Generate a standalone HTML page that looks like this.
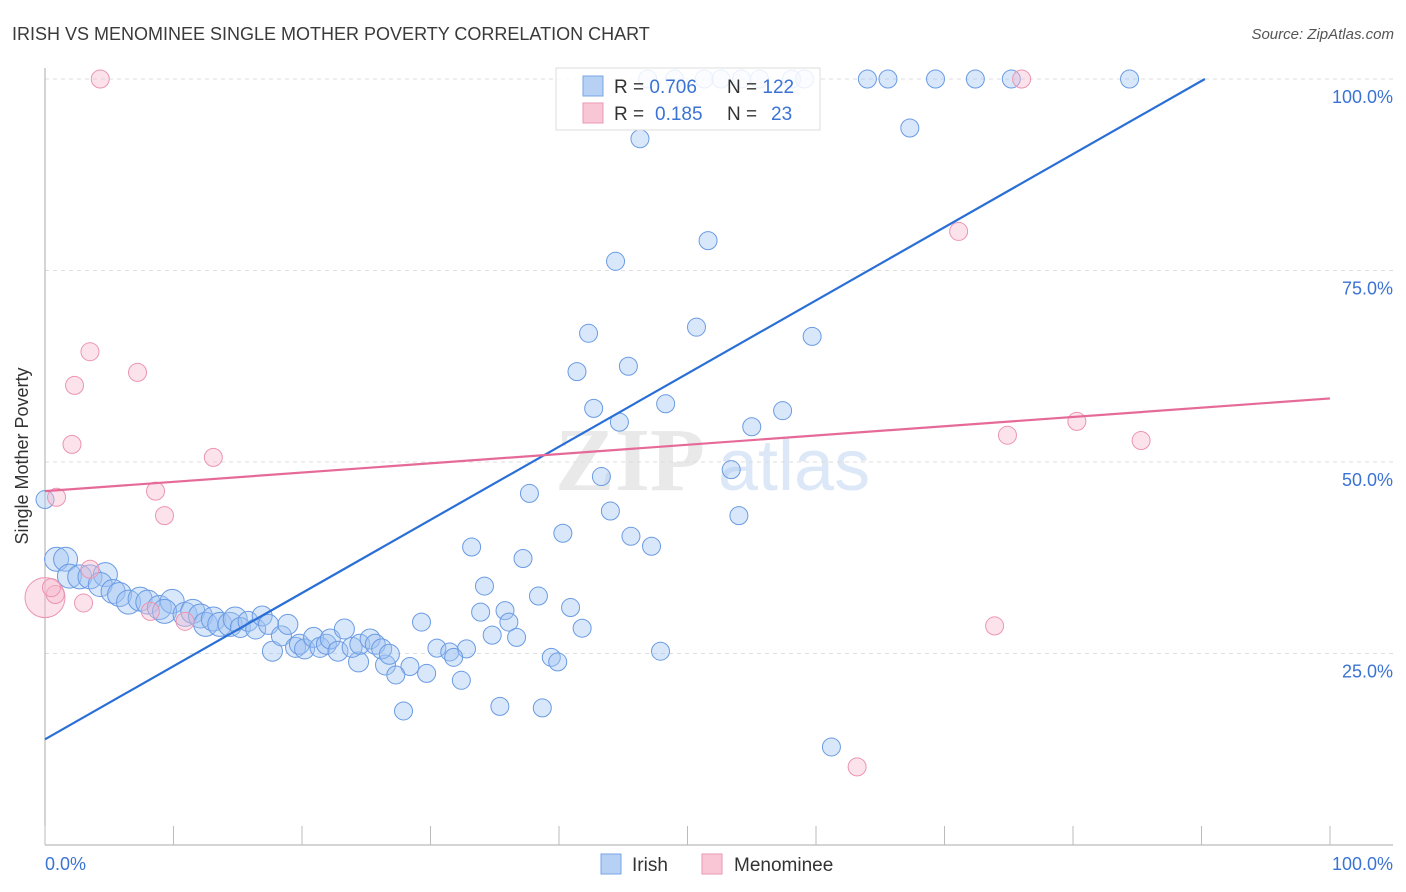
<!DOCTYPE html>
<html><head><meta charset="utf-8"><style>
body{margin:0;background:#fff;font-family:"Liberation Sans",sans-serif}
svg{display:block}
</style></head><body>
<svg id="chart" width="1406" height="892" xmlns="http://www.w3.org/2000/svg">
<text x="12" y="40" font-size="18" fill="#3a3a3a">IRISH VS MENOMINEE SINGLE MOTHER POVERTY CORRELATION CHART</text>
<text x="1394" y="39" font-size="15" fill="#555" text-anchor="end" font-style="italic">Source: ZipAtlas.com</text>
<g>
<text x="555" y="490" font-size="90" fill="#dcdcdc" font-family="Liberation Serif,serif" font-weight="bold" opacity="0.6">ZIP</text>
<text x="718" y="490" font-size="72" fill="#c6daf3" opacity="0.6">atlas</text>
</g>
<g id="grid"></g>
<g id="axes"></g>
<g id="pts"></g>
<g id="lines"></g>
<text x="28" y="456" font-size="18" fill="#333" text-anchor="middle" transform="rotate(-90 28 456)">Single Mother Poverty</text>
<g>
<rect x="556" y="68" width="264" height="62" fill="#fff" fill-opacity="0.85" stroke="#ddd"/>
<rect x="583" y="76" width="20" height="20" fill="#b7d1f5" stroke="#7aa5e6"/>
<rect x="583" y="103" width="20" height="20" fill="#f8c6d5" stroke="#ea99b3"/>
<text x="614" y="93" font-size="19" fill="#333">R = <tspan fill="#3b73d4">0.706</tspan><tspan x="727">N = </tspan><tspan fill="#3b73d4">122</tspan></text>
<text x="614" y="120" font-size="19" fill="#333">R = <tspan x="655" fill="#3b73d4">0.185</tspan><tspan x="727">N = </tspan><tspan x="771" fill="#3b73d4">23</tspan></text>
</g>
<g>
<rect x="601" y="854" width="20" height="20" fill="#b7d1f5" stroke="#7aa5e6"/>
<text x="632" y="871" font-size="19" fill="#333">Irish</text>
<rect x="702" y="854" width="20" height="20" fill="#f8c6d5" stroke="#ea99b3"/>
<text x="734" y="871" font-size="19" fill="#333">Menominee</text>
</g>
</svg>
<script>
const yTicks=[25,50,75,100];
const yTickLabels=["25.0%","50.0%","75.0%","100.0%"];
const xTickCount=10;
const irishX=[46.9,49.0,51.3,52.6,54.2,55.6,58.1,59.1,64.0,65.6,69.3,72.4,75.2,84.4,67.3,46.3,51.6,44.4,50.7,59.7,42.3,45.4,41.4,42.7,48.3,57.4,55.0,44.7,37.7,43.3,53.4,44.0,54.0,40.3,45.6,47.2,33.2,37.2,34.2,38.4,40.9,35.8,33.9,36.1,41.8,29.3,34.8,36.7,47.9,30.5,32.8,31.5,31.8,39.4,39.9,28.4,26.5,27.3,29.7,32.4,24.4,27.9,35.4,38.7,61.2,0,
0.9,1.6,1.9,2.7,3.5,4.7,4.3,5.3,5.8,6.5,7.4,8.0,8.9,9.9,9.3,10.9,11.5,12.1,12.5,13.1,13.6,14.4,14.8,15.2,15.8,16.4,16.9,17.4,17.7,18.4,18.9,19.5,19.8,20.2,20.9,21.4,21.9,22.2,22.8,23.3,23.9,24.5,25.3,25.7,26.2,26.8];
const irishY=[100,100,100,100,100,100,100,100,100,100,100,100,100,100,93.6,92.2,78.9,76.2,67.6,66.4,66.8,62.5,61.8,57.0,57.6,56.7,54.6,55.2,45.9,48.1,49.0,43.6,43.0,40.7,40.3,39.0,38.9,37.4,33.8,32.5,31.0,30.6,30.4,29.1,28.3,29.1,27.4,27.1,25.3,25.7,25.6,25.2,24.5,24.5,23.9,23.3,23.5,22.2,22.4,21.5,23.9,17.5,18.1,17.9,12.8,45.1,
37.3,37.3,35.1,35.0,35.0,35.3,34.0,33.1,32.7,31.7,32.1,31.7,31.0,31.8,30.5,30.1,30.5,29.9,28.8,29.5,28.8,28.8,29.5,28.4,29.2,28.2,29.9,28.8,25.3,27.3,28.8,25.8,26.2,25.6,27.1,25.8,26.2,26.9,25.3,28.2,25.8,26.2,26.9,26.2,25.6,24.9];
const menX=[4.3,76.0,71.1,3.5,7.2,2.3,2.1,13.1,8.6,9.3,0.9,80.3,74.9,85.3,73.9,63.2,0,0.8,3.0,3.5,8.2,10.9,0.5];
const menY=[100,100,80.1,64.4,61.7,60.0,52.3,50.6,46.2,43.0,45.4,55.3,53.5,52.8,28.6,10.2,32.3,32.7,31.6,36.0,30.5,29.2,33.6];
const irishTrend=[13.8,0.955];
const menTrend=[46.2,0.121];
const NS="http://www.w3.org/2000/svg";
const X0=45,X1=1330,Y0=845,Y100=79;
const sx=v=>X0+(X1-X0)*v/100;
const sy=v=>Y0-(Y0-Y100)*v/100;
function mk(tag,attrs,parent){const e=document.createElementNS(NS,tag);for(const k in attrs)e.setAttribute(k,attrs[k]);parent.appendChild(e);return e;}
const grid=document.getElementById('grid'),axes=document.getElementById('axes');
yTicks.forEach((t,i)=>{
 const l=mk('line',{x1:X0,x2:1393,y1:sy(t),y2:sy(t),stroke:'#ddd','stroke-dasharray':'4,4'},grid);
 
 
 const tx=mk('text',{x:1393,y:sy(t)+24,'font-size':18,fill:'#3b73d4','text-anchor':'end'},axes);
 tx.textContent=yTickLabels[i];
 
 
});
mk('line',{x1:X0,x2:X0,y1:68,y2:Y0,stroke:'#aaa'},axes);
mk('line',{x1:X0,x2:1393,y1:Y0,y2:Y0,stroke:'#aaa'},axes);
for(let k=0;k<=xTickCount;k++){const x=sx(k*100/xTickCount);const t=mk('line',{x1:x,x2:x,y1:826,y2:Y0,stroke:'#bbb'},axes);
 
 }
const xl=mk('text',{x:45,y:870,'font-size':18,fill:'#3b73d4'},axes);xl.textContent='0.0%';


const xr=mk('text',{x:1393,y:870,'font-size':18,fill:'#3b73d4','text-anchor':'end'},axes);xr.textContent='100.0%';


const pts=document.getElementById('pts');
irishX.forEach((x,i)=>{const r=x<27&&irishY[i]<40?(x<15?12:10):9;
 const c=mk('circle',{cx:sx(x),cy:sy(irishY[i]),r:r,fill:'rgba(160,196,242,0.4)',stroke:'#6a9be3','stroke-width':1},pts);
 
 });
menX.forEach((x,i)=>{const r=x===0?20:9;
 const c=mk('circle',{cx:sx(x),cy:sy(menY[i]),r:r,fill:'rgba(248,185,205,0.4)',stroke:'#eb95b2','stroke-width':1},pts);
 
 });
const lines=document.getElementById('lines');
const xe=(100-irishTrend[0])/irishTrend[1];
const l1=mk('line',{x1:sx(0),y1:sy(irishTrend[0]),x2:sx(xe),y2:sy(100),stroke:'#2a6fd6','stroke-width':2.2},lines);


const l2=mk('line',{x1:sx(0),y1:sy(menTrend[0]),x2:sx(100),y2:sy(menTrend[0]+menTrend[1]*100),stroke:'#e66a98','stroke-width':2.2},lines);


</script>
</body></html>
